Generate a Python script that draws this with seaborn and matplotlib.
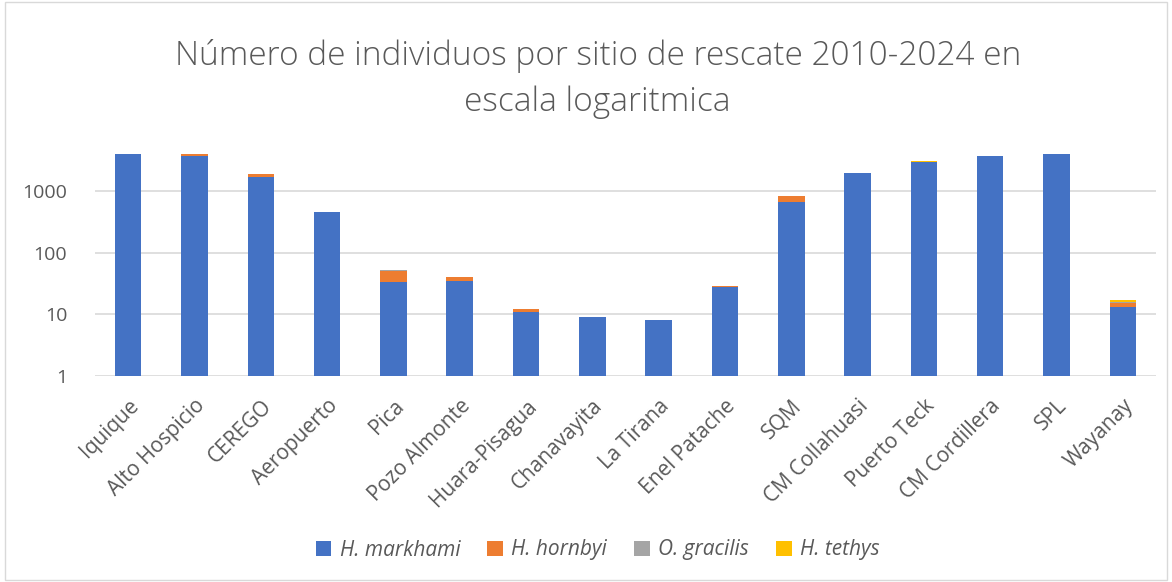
import matplotlib
matplotlib.use("Agg")
import matplotlib.pyplot as plt
from matplotlib.patches import Patch, Rectangle
import seaborn as sns
import numpy as np
import pandas as pd

sites = ["Iquique", "Alto Hospicio", "CEREGO", "Aeropuerto", "Pica", "Pozo Almonte",
         "Huara-Pisagua", "Chanavayita", "La Tirana", "Enel Patache", "SQM",
         "CM Collahuasi", "Puerto Teck", "CM Cordillera", "SPL", "Wayanay"]
h_markhami = [4000, 3700, 1700, 450, 33, 35, 11, 9, 8, 28, 670, 1930, 2920, 3700, 4000, 13]
h_hornbyi  = [0,    300,  150,  10,  18, 5,  1,  0, 0, 1,  170, 0,    60,   20,   0,    2]
o_gracilis = [0,    0,    20,   0,   1,  0,  0,  0, 0, 0,  0,   5,    0,    0,    0,    1]
h_tethys   = [0,    0,    20,   0,   0,  0,  0,  0, 0, 0,  0,   0,    40,   0,    0,    1]
series_names = ["H. markhami", "H. hornbyi", "O. gracilis", "H. tethys"]
colors = ["#4472C4", "#ED7D31", "#A5A5A5", "#FFC000"]
yticks = [1, 10, 100, 1000]

sns.set_theme(style="white")
plt.rcParams["font.family"] = ["Open Sans", "DejaVu Sans"]

fig = plt.figure(figsize=(11.72, 5.82), dpi=100)
ax = fig.add_axes([95/1172, 1 - 376/582, (1156 - 95)/1172, (376 - 140)/582])

layers = [h_markhami, h_hornbyi, o_gracilis, h_tethys]
cums = np.cumsum(np.array(layers, dtype=float), axis=0)
df = pd.DataFrame({"site": sites})
for i in range(3, -1, -1):
    df["v"] = cums[i]
    sns.barplot(data=df, x="site", y="v", color=colors[i], width=0.4,
                saturation=1, ax=ax, linewidth=0)

ax.set_yscale("log")
ax.set_ylim(1, 6700)
ax.set_xlim(-0.5, len(sites) - 0.5)
ax.set_yticks(yticks)
ax.set_yticklabels([str(t) for t in yticks])
ax.yaxis.set_minor_locator(matplotlib.ticker.NullLocator())
ax.grid(axis="y", color="#d9d9d9", linewidth=1.2)
ax.set_axisbelow(True)
for s in ax.spines.values():
    s.set_visible(False)
ax.set_xlabel("")
ax.set_ylabel("")
ax.tick_params(axis="y", labelsize=14, colors="#595959", length=0, pad=20)
ax.tick_params(axis="x", labelsize=15, colors="#595959", length=0, pad=14)
plt.setp(ax.get_xticklabels(), rotation=45, ha="right", rotation_mode="anchor")

fig.text(0.51, 1 - 79/582, "Número de individuos por sitio de rescate 2010-2024 en\nescala logaritmica",
         ha="center", va="center", fontsize=24, color="#595959", linespacing=1.5,
         fontweight="light")

handles = [Patch(facecolor=c, edgecolor="none") for c in colors]
leg = fig.legend(handles, series_names, loc="center", bbox_to_anchor=(0.51, 1 - 550/582),
                 ncol=4, frameon=False, fontsize=15, handlelength=0.75, handleheight=0.75,
                 columnspacing=1.3, handletextpad=0.4)
for t in leg.get_texts():
    t.set_color("#595959")
    t.set_fontstyle("italic")

fig.patches.append(Rectangle((0.004, 0.004), 0.992, 0.992, transform=fig.transFigure,
                             fill=False, edgecolor="#d9d9d9", linewidth=1))

fig.savefig("out.png", dpi=100)
